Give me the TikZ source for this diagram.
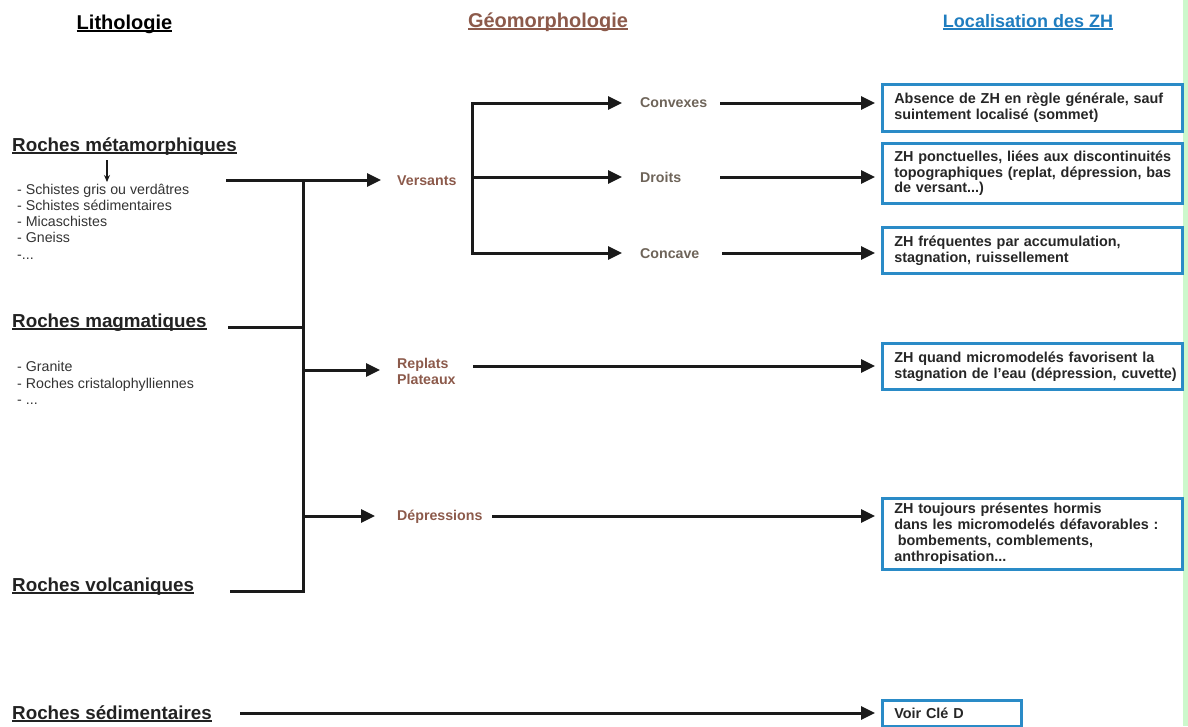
\documentclass[tikz,border=0pt]{standalone}
\usepackage{fontspec}
\setmainfont{Liberation Sans}
\usetikzlibrary{arrows.meta}
\definecolor{brownC}{HTML}{8C5A4B}
\definecolor{greyC}{HTML}{6E6459}
\definecolor{blueH}{HTML}{1F7DBF}
\definecolor{boxC}{HTML}{2A8BC7}
\definecolor{lineC}{HTML}{1A1A1A}
\definecolor{rockC}{HTML}{222222}
\definecolor{listC}{HTML}{333333}
\definecolor{boxT}{HTML}{262626}
\definecolor{stripC}{HTML}{CCF8CC}
\newcommand\myul[1]{\setbox0\hbox{#1}\rlap{\rule[-2.6pt]{\wd0}{1.3pt}}\box0}
\begin{document}
\begin{tikzpicture}[x=1pt,y=-1pt,
  hdr/.style={inner sep=0pt,anchor=base,font=\fontsize{20}{24}\selectfont\bfseries},
  rock/.style={inner sep=0pt,anchor=base west,text=rockC,font=\fontsize{18.8}{22}\selectfont\bfseries},
  lst/.style={inner sep=0pt,anchor=north west,align=left,text=listC,font=\fontsize{14.2}{16.3}\selectfont},
  geo/.style={inner sep=0pt,anchor=base west,text=brownC,font=\fontsize{14.2}{16}\selectfont\bfseries},
  geotwo/.style={geo,anchor=north west,align=left},
  sub/.style={geo,text=greyC},
  zh/.style={draw=boxC,line width=2.6pt,inner xsep=12pt,inner ysep=0pt,anchor=north west,text width=276pt,align=left,text=boxT,font=\fontsize{14.4}{15.9}\selectfont\bfseries},
  ln/.style={draw=lineC,line width=3pt},
  arr/.style={ln,-{Triangle[length=14pt,width=13pt]}},
  darr/.style={ln,{Triangle[length=14pt,width=13pt]}-{Triangle[length=14pt,width=13pt]}},
  thinarr/.style={draw=lineC,line width=1.3pt,-{Stealth[length=7pt,width=6pt]}}
]
\useasboundingbox (0,0) rectangle (1188,726);
\fill[stripC] (1183,0) rectangle (1188,726);

% headers
\node[hdr] (hL) at (124.5,29) {\myul{Lithologie}};
\node[hdr,text=brownC] (hG) at (548,27) {\myul{Géomorphologie}};
\node[hdr,text=blueH,font=\fontsize{18}{22}\selectfont\bfseries] (hZ) at (1028,27) {\myul{Localisation des ZH}};

% lithology
\node[rock] (mh) at (12,151) {\myul{Roches métamorphiques}};
\node[rock] (gh) at (12,327) {\myul{Roches magmatiques}};
\node[rock] (vh) at (12,591) {\myul{Roches volcaniques}};
\node[rock] (sh) at (12,719) {\myul{Roches sédimentaires}};
\node[lst] (ml) at (17,183.5) {- Schistes gris ou verdâtres\\- Schistes sédimentaires\\- Micaschistes\\- Gneiss\\-...};
\node[lst] (gl) at (17,361.5) {- Granite\\- Roches cristalophylliennes\\- ...};

% geomorphology
\node[geo] (ver) at (397,185) {Versants};
\node[geotwo] (rep) at (397,357.7) {Replats\\Plateaux};
\node[geo] (dep) at (397,520) {Dépressions};
\node[sub] (cvx) at (640,107) {Convexes};
\node[sub] (drt) at (640,182) {Droits};
\node[sub] (ccv) at (640,258) {Concave};

% ZH boxes
\node[zh,minimum height=47pt] (z1) at (881,83) {\mbox{Absence de ZH en règle générale, sauf}\\\mbox{suintement localisé (sommet)}};
\node[zh,minimum height=60pt] (z2) at (881,142) {\mbox{ZH ponctuelles, liées aux discontinuités}\\\mbox{topographiques (replat, dépression, bas}\\\mbox{de versant...)}};
\node[zh,minimum height=46pt] (z3) at (881,226) {\mbox{ZH fréquentes par accumulation,}\\\mbox{stagnation, ruissellement}};
\node[zh,minimum height=46pt] (z4) at (881,342) {\mbox{ZH quand micromodelés favorisent la}\\\mbox{stagnation de l\char39 eau (dépression, cuvette)}};
\node[zh,minimum height=71pt] (z5) at (881,497) {\mbox{ZH toujours présentes hormis}\\\mbox{dans les micromodelés défavorables :}\\\mbox{\hspace*{3.5pt}bombements, comblements,}\\\mbox{anthropisation...}};
\node[zh,minimum height=26pt,text width=115pt] (z6) at (881,699) {\mbox{Voir Clé D}};

% coordinates
\coordinate (dnx) at (107,0);
\coordinate (m0) at (226,180);
\coordinate (j1) at (303,180);
\coordinate (g0) at (228,327);
\coordinate (j2) at (303,327);
\coordinate (j3) at (303,370);
\coordinate (j4) at (303,516);
\coordinate (v0) at (230,591);
\coordinate (j5) at (303,591);
\coordinate (s0) at (240,713);
\coordinate (b1) at (472,103);
\coordinate (b2) at (472,177);
\coordinate (b3) at (472,253);
\coordinate (r1) at (720,103);
\coordinate (r2) at (720,177);
\coordinate (r3) at (722,253);
\coordinate (r4) at (473,366);
\coordinate (r5) at (492,516);

% connectors
\draw[thinarr,shorten <=5pt,shorten >=1.5pt] (mh.south -| dnx) -- (ml.north -| dnx);
\draw[arr,shorten >=16pt] (m0) -- (m0 -| ver.west);
\draw[ln,line join=miter] (v0) -- (j5) -- (j1);
\draw[ln] (g0) -- (j2);
\draw[arr,shorten >=17pt] (j3) -- (j3 -| rep.west);
\draw[arr,shorten >=22pt] (j4) -- (j4 -| dep.west);
\draw[arr,shorten >=6pt] (s0) -- (s0 -| z6.west);

\draw[darr,line join=miter,shorten <=18pt,shorten >=18pt] (b1 -| cvx.west) -- (b1) -- (b3) -- (b3 -| ccv.west);
\draw[arr,shorten >=18pt] (b2) -- (b2 -| drt.west);

\draw[arr,shorten >=6pt] (r1) -- (r1 -| z1.west);
\draw[arr,shorten >=6pt] (r2) -- (r2 -| z2.west);
\draw[arr,shorten >=6pt] (r3) -- (r3 -| z3.west);
\draw[arr,shorten >=6pt] (r4) -- (r4 -| z4.west);
\draw[arr,shorten >=6pt] (r5) -- (r5 -| z5.west);
\end{tikzpicture}
\end{document}
